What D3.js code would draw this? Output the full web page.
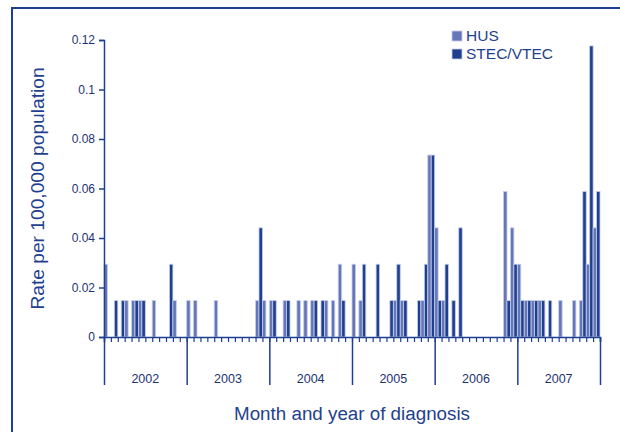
<!DOCTYPE html>
<html>
<head>
<meta charset="utf-8">
<script src="https://cdn.jsdelivr.net/npm/d3@7"></script>
<style>
  body { margin: 0; background: #fff; }
  svg { display: block; font-family: "Liberation Sans", Arial, sans-serif; }
</style>
</head>
<body>
<svg id="chart" width="620" height="432"></svg>
<script>
var svg = d3.select('#chart');
const W = +svg.attr('width');
const H = +svg.attr('height');

// monthly rates per 100,000, Jan 2002 .. Dec 2007
const years = ["2002", "2003", "2004", "2005", "2006", "2007"];
const hus = [
  0.0294, 0, 0, 0.0147, 0.0147, 0.0147, 0, 0.0147, 0, 0, 0.0147, 0,
  0.0147, 0.0147, 0, 0, 0.0147, 0, 0, 0, 0, 0, 0.0147, 0.0147,
  0.0147, 0, 0.0147, 0, 0.0147, 0.0147, 0.0147, 0, 0.0147, 0.0147, 0.0294, 0,
  0.0294, 0.0147, 0, 0, 0, 0, 0.0147, 0.0147, 0, 0, 0.0147, 0.0735,
  0.0441, 0.0147, 0, 0, 0, 0, 0, 0, 0, 0, 0.0588, 0.0441,
  0.0294, 0.0147, 0.0147, 0.0147, 0, 0, 0.0147, 0, 0.0147, 0.0147, 0.0294, 0.0441
];
const stec = [
  0, 0.0147, 0.0147, 0, 0.0147, 0.0147, 0, 0, 0, 0.0294, 0, 0,
  0, 0, 0, 0, 0, 0, 0, 0, 0, 0, 0.0441, 0,
  0.0147, 0, 0.0147, 0, 0, 0, 0.0147, 0.0147, 0, 0, 0.0147, 0,
  0, 0.0294, 0, 0.0294, 0, 0.0147, 0.0294, 0.0147, 0, 0.0147, 0.0294, 0.0735,
  0.0147, 0.0294, 0.0147, 0.0441, 0, 0, 0, 0, 0, 0, 0.0147, 0.0294,
  0.0147, 0.0147, 0.0147, 0.0147, 0.0147, 0, 0, 0, 0, 0.0588, 0.1176, 0.0588
];
const series = ["HUS", "STEC/VTEC"];
const yTicks = [0, 0.02, 0.04, 0.06, 0.08, 0.1, 0.12];

const navy = '#1f3f8f';
const colors = { "HUS": '#6677b9', "STEC/VTEC": '#1f3f8f' };

const margin = {top: 40, bottom: 95, left: 104, right: 20};

const data = hus.map((v, i) => ({ i: i, "HUS": v, "STEC/VTEC": stec[i] }));

const X = d3.scaleBand()
    .domain(d3.range(hus.length))
    .range([margin.left, W - margin.right])
    .padding(0);
const Xsub = d3.scaleBand()
    .domain(series)
    .range([0, X.bandwidth()]);
const Xlin = d3.scaleLinear()
    .domain([0, hus.length])
    .range([margin.left, W - margin.right]);
const Y = d3.scaleLinear()
    .domain([0, 0.12])
    .range([H - margin.bottom, margin.top]);

// frame
svg.append('rect')
    .attr('x', 12).attr('y', 8)
    .attr('width', W).attr('height', H)
    .attr('fill', 'none')
    .attr('stroke', navy)
    .attr('stroke-width', 2);

// bars
const g = svg.append('g');
g.selectAll('g.month').data(data)
  .enter().append('g')
    .attr('transform', d => 'translate(' + X(d.i) + ',0)')
  .selectAll('rect')
  .data(d => series.map(s => ({ key: s, value: d[s] })).filter(d => d.value > 0))
  .enter().append('rect')
    .attr('x', d => Xsub(d.key))
    .attr('y', d => Y(d.value))
    .attr('width', Xsub.bandwidth())
    .attr('height', d => Y(0) - Y(d.value))
    .attr('fill', d => colors[d.key])
    .attr('stroke', '#c5cde8')
    .attr('stroke-width', 0.8);

// y axis
const yAxis = svg.append('g')
    .attr('transform', 'translate(' + margin.left + ',0)')
    .call(d3.axisLeft(Y).tickValues(yTicks).tickSize(5).tickPadding(4)
        .tickFormat(d => d === 0 ? '0' : d3.format('.2~f')(d)));
yAxis.select('.domain').attr('stroke', navy).attr('stroke-width', 1.5);
yAxis.selectAll('line').attr('stroke', navy).attr('stroke-width', 1.5);
yAxis.selectAll('text').attr('fill', '#1c3272').style('font-size', '12px')
    .style('font-family', '"Liberation Sans", Arial, sans-serif');

// month ticks
const mAxis = svg.append('g')
    .attr('transform', 'translate(0,' + Y(0) + ')')
    .call(d3.axisBottom(Xlin).tickValues(d3.range(hus.length + 1)).tickSize(5).tickFormat(''));
mAxis.select('.domain').attr('stroke', navy).attr('stroke-width', 1.5);
mAxis.selectAll('line').attr('stroke', navy).attr('stroke-width', 1.2);

// year dividers
const yrAxis = svg.append('g')
    .attr('transform', 'translate(0,' + Y(0) + ')')
    .call(d3.axisBottom(Xlin).tickValues(d3.range(0, hus.length + 1, 12)).tickSize(48).tickFormat(''));
yrAxis.select('.domain').remove();
yrAxis.selectAll('line').attr('stroke', navy).attr('stroke-width', 1.5);

svg.append('g').selectAll('text').data(years)
  .enter().append('text')
    .attr('x', (d, k) => Xlin(k * 12 + 6))
    .attr('y', Y(0) + 46)
    .attr('text-anchor', 'middle')
    .attr('fill', '#1c3272')
    .style('font-size', '12.5px')
    .text(d => d);

// titles
svg.append('text')
    .attr('x', (margin.left + W - margin.right) / 2)
    .attr('y', 420)
    .attr('text-anchor', 'middle')
    .attr('fill', navy)
    .style('font-size', '18.8px')
    .text('Month and year of diagnosis');

svg.append('text')
    .attr('transform', 'translate(44,' + ((margin.top + H - margin.bottom) / 2) + ') rotate(-90)')
    .attr('text-anchor', 'middle')
    .attr('fill', navy)
    .style('font-size', '19.2px')
    .text('Rate per 100,000 population');

// legend
const legend = svg.append('g');
series.forEach((s, k) => {
    legend.append('rect')
        .attr('x', 452).attr('y', 31 + k * 18)
        .attr('width', 10).attr('height', 10)
        .attr('fill', colors[s])
        .attr('stroke', '#c5cde8').attr('stroke-width', 0.8);
    legend.append('text')
        .attr('x', 466).attr('y', 41 + k * 18)
        .attr('fill', navy)
        .style('font-size', '15.5px')
        .text(s);
});
</script>
</body>
</html>
